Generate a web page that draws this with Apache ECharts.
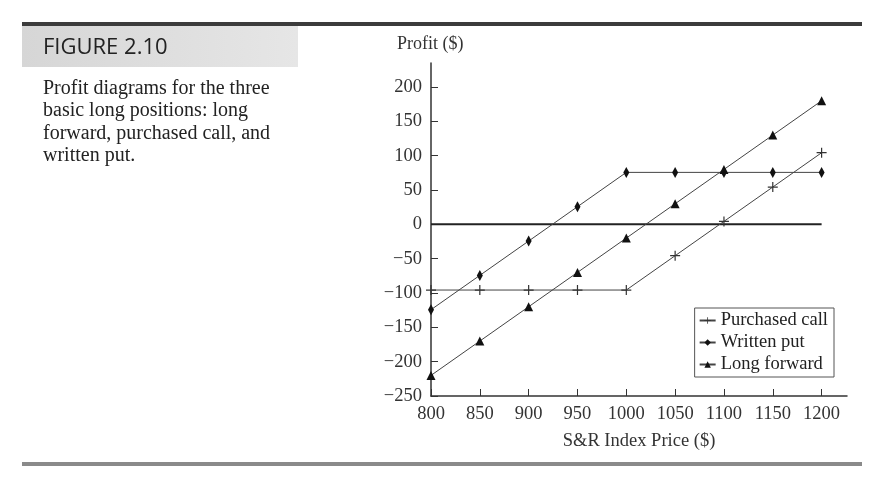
<!DOCTYPE html>
<html>
<head>
<meta charset="utf-8">
<script src="https://cdn.jsdelivr.net/npm/echarts@6/dist/echarts.min.js"></script>
<style>html,body{margin:0;padding:0;background:#fff}#c{width:882px;height:484px}</style>
</head>
<body>
<div id="c"></div>
<script>
const prices = [800, 850, 900, 950, 1000, 1050, 1100, 1150, 1200];
const purchasedCall = [-95.68, -95.68, -95.68, -95.68, -95.68, -45.68, 4.32, 54.32, 104.32];
const writtenPut = [-124.32, -74.32, -24.32, 25.68, 75.68, 75.68, 75.68, 75.68, 75.68];
const longForward = [-220, -170, -120, -70, -20, 30, 80, 130, 180];
const yTicks = [-250, -200, -150, -100, -50, 0, 50, 100, 150, 200];
const xTicks = [800, 850, 900, 950, 1000, 1050, 1100, 1150, 1200];

const serif = '"Liberation Serif", "Times New Roman", serif';
const ink = '#333';
const pair = (arr) => prices.map((p, i) => [p, arr[i]]);
const plusPath = 'path://M0,4.4h10v1.2h-10zM4.4,0h1.2v10h-1.2z';

const chart = echarts.init(document.getElementById('c'), null, {renderer: 'canvas'});
chart.setOption({
  animation: false,
  backgroundColor: '#fff',
  grid: {left: 431, right: 35, top: 63, bottom: 88, containLabel: false},
  xAxis: {
    type: 'value', min: 800, max: 1226,
    name: 'S&R Index Price ($)', nameLocation: 'middle', nameGap: 36,
    nameTextStyle: {fontFamily: serif, fontSize: 18.5, color: ink},
    axisLine: {show: true, onZero: false, lineStyle: {color: ink, width: 1.5}},
    axisTick: {show: true, inside: true, length: 7, customValues: xTicks, lineStyle: {color: ink}},
    axisLabel: {customValues: xTicks, fontFamily: serif, fontSize: 18.5, color: ink, margin: 9,
      formatter: (v) => String(v)},
    splitLine: {show: false}
  },
  yAxis: {
    type: 'value', min: -250, max: 235,
    axisLine: {show: true, onZero: false, lineStyle: {color: ink, width: 1.5}},
    axisTick: {show: true, inside: true, length: 7, customValues: yTicks, lineStyle: {color: ink}},
    axisLabel: {customValues: yTicks, fontFamily: serif, fontSize: 18.5, color: ink, margin: 9,
      formatter: (v) => String(v).replace('-', '\u2212')},
    splitLine: {show: false}
  },
  legend: {
    right: 48, top: 308, orient: 'vertical',
    borderColor: '#555', borderWidth: 1, padding: [3, 6, 3, 4], itemGap: 3,
    itemWidth: 16, itemHeight: 8,
    textStyle: {fontFamily: serif, fontSize: 18.5, color: '#222'},
    data: ['Purchased call', 'Written put', 'Long forward']
  },
  series: [
    {name: 'zero', type: 'line', data: [[800, 0], [1200, 0]], symbol: 'none',
      lineStyle: {color: '#222', width: 2}, silent: true},
    {name: 'Purchased call', type: 'line', data: pair(purchasedCall), symbol: plusPath, symbolSize: 10,
      itemStyle: {color: '#333'}, lineStyle: {color: '#444', width: 1}},
    {name: 'Written put', type: 'line', data: pair(writtenPut), symbol: 'diamond', symbolSize: [6, 11],
      itemStyle: {color: '#111'}, lineStyle: {color: '#444', width: 1}},
    {name: 'Long forward', type: 'line', data: pair(longForward), symbol: 'triangle', symbolSize: 9,
      itemStyle: {color: '#111'}, lineStyle: {color: '#444', width: 1}}
  ],
  graphic: [
    {type: 'rect', shape: {x: 22, y: 26, width: 276, height: 41},
      style: {fill: new echarts.graphic.LinearGradient(0, 0, 1, 0, [
        {offset: 0, color: '#d6d6d6'}, {offset: 0.5, color: '#dedede'}, {offset: 1, color: '#e6e6e6'}])}},
    {type: 'rect', shape: {x: 22, y: 22, width: 840, height: 4}, style: {fill: '#3c3c3c'}},
    {type: 'rect', shape: {x: 22, y: 462, width: 840, height: 4}, style: {fill: '#8a8a8a'}},
    {type: 'text', left: 43, top: 37, style: {text: 'FIGURE 2.10', fontFamily: '"Open Sans", "Liberation Sans", sans-serif', fontSize: 22, fill: '#222'}},
    {type: 'text', left: 43, top: 77, style: {
      text: 'Profit diagrams for the three\nbasic long positions: long\nforward, purchased call, and\nwritten put.',
      fontFamily: serif, fontSize: 20, lineHeight: 22.5, fill: '#222'}},
    {type: 'text', left: 397, top: 35, style: {text: 'Profit ($)', fontFamily: serif, fontSize: 18, fill: ink}}
  ]
});
</script>
</body>
</html>
